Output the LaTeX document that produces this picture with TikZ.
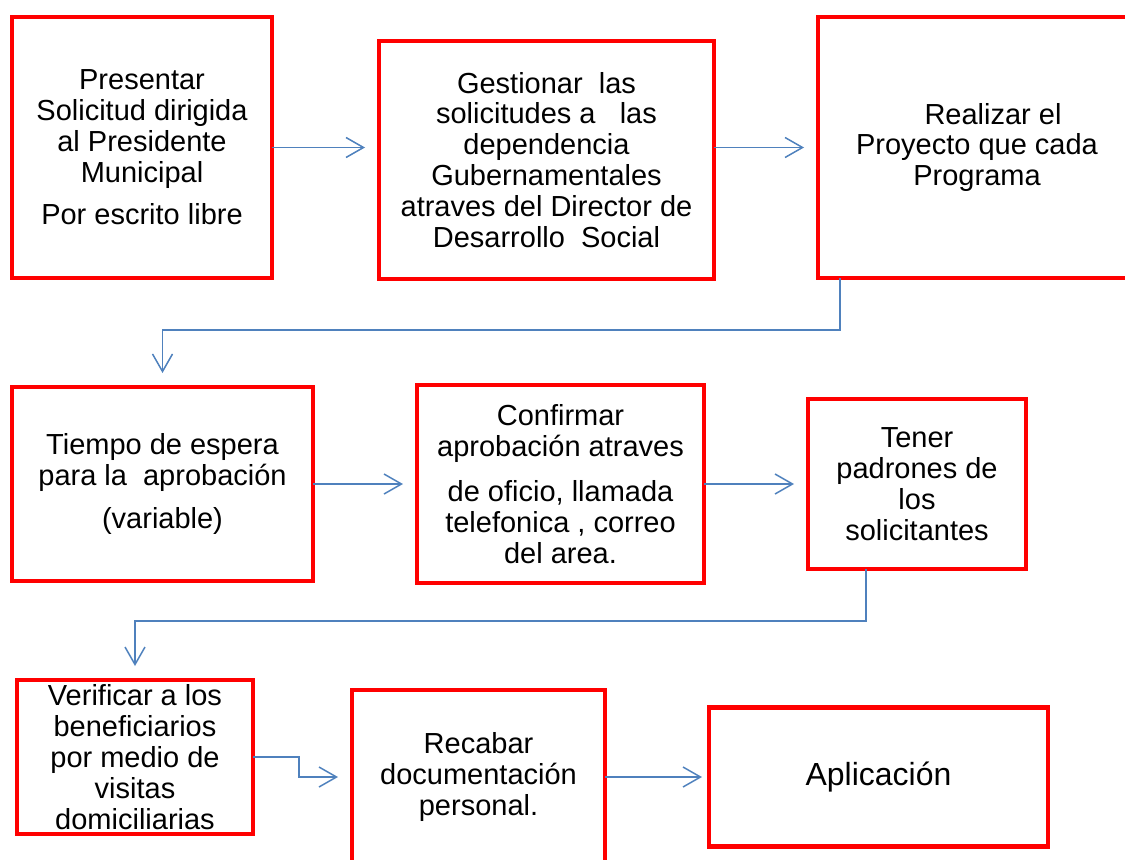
\documentclass[tikz,border=0pt]{standalone}
\usepackage{fontspec}
\setmainfont{Liberation Sans}
\usetikzlibrary{positioning,arrows.meta}
\definecolor{flowblue}{RGB}{79,129,189}

\begin{document}
\begin{tikzpicture}[>={Straight Barb[length=3.5mm,width=4mm]},shorten >=0.28cm,node distance=2.18cm and 2.08cm,
  box node/.style={draw=red,line width=2.55pt,outer sep=0pt,inner sep=0pt,align=center,font=\fontsize{16.5pt}{17.6pt}\selectfont},
  flow/.style={->,draw=flowblue,line width=0.85pt}]
    \useasboundingbox (0,0) rectangle (22.5,-17.18);
    \clip (0,0) rectangle (22.5,-17.18);

    \node[box node,minimum width=5.2cm,minimum height=5.22cm] (1) at (2.84,-2.95) {Presentar\\ Solicitud dirigida\\ al Presidente\\ Municipal\\[0.22cm] Por escrito libre};
    \node[box node,minimum width=6.7cm,minimum height=4.76cm,right=of 1,xshift=0.06cm,yshift=-0.25cm] (2) {Gestionar\ \ las\\ solicitudes a\ \ \ las\\ dependencia\\ Gubernamentales\\ atraves del Director de\\ Desarrollo\ \ Social};
    \node[box node,minimum width=6.36cm,minimum height=5.22cm,right=of 2,yshift=0.25cm] (3) {\hspace*{0.64cm}Realizar el\\ Proyecto que cada\\ Programa};
    \node[box node,minimum width=6.02cm,minimum height=3.88cm,below=of 1.south west,anchor=north west] (4) {Tiempo de espera\\ para la\ \ aprobación\\[0.26cm] (variable)};
    \node[box node,minimum width=5.74cm,minimum height=3.96cm,right=of 4] (5) {Confirmar\\ aprobación atraves\\[0.28cm] de oficio, llamada\\ telefonica , correo\\ del area.};
    \node[box node,minimum width=4.36cm,minimum height=3.4cm,right=of 5] (6) {Tener\\ padrones de\\ los\\ solicitantes};
    \node[box node,minimum width=4.72cm,minimum height=3.08cm,below=of 4.south west,anchor=north west,xshift=0.1cm,yshift=0.2cm] (7) {Verificar a los\\ beneficiarios\\ por medio de\\ visitas\\ domiciliarias};
    \node[box node,minimum width=5.06cm,minimum height=3.48cm,right=of 7,xshift=-0.1cm,yshift=-0.4cm] (8) {Recabar\\ documentación\\ personal.};
    \node[box node,minimum width=6.78cm,minimum height=2.78cm,right=of 8,font=\fontsize{18.2pt}{20pt}\selectfont] (9) {Aplicación};

    \path[every edge/.style={flow}]
        (1.east) edge (1.east -| 2.west)
        (3.west -| 2.east) edge (3.west)
        (4.east) edge (4.east -| 5.west)
        (5.east) edge (5.east -| 6.west)
        (8.east) edge[shorten >=0.14cm] (8.east -| 9.west)
        ;
    \draw[flow] ([xshift=0.44cm]3.south west) -- ++(0,-1.04) -| (4.north);
    \draw[flow] ([xshift=1.16cm]6.south west) -- ++(0,-1.04) -| (7.north);
    \draw[flow] (7.east) -- ++(0.92,0) |- (8.west);
\end{tikzpicture}
\end{document}
